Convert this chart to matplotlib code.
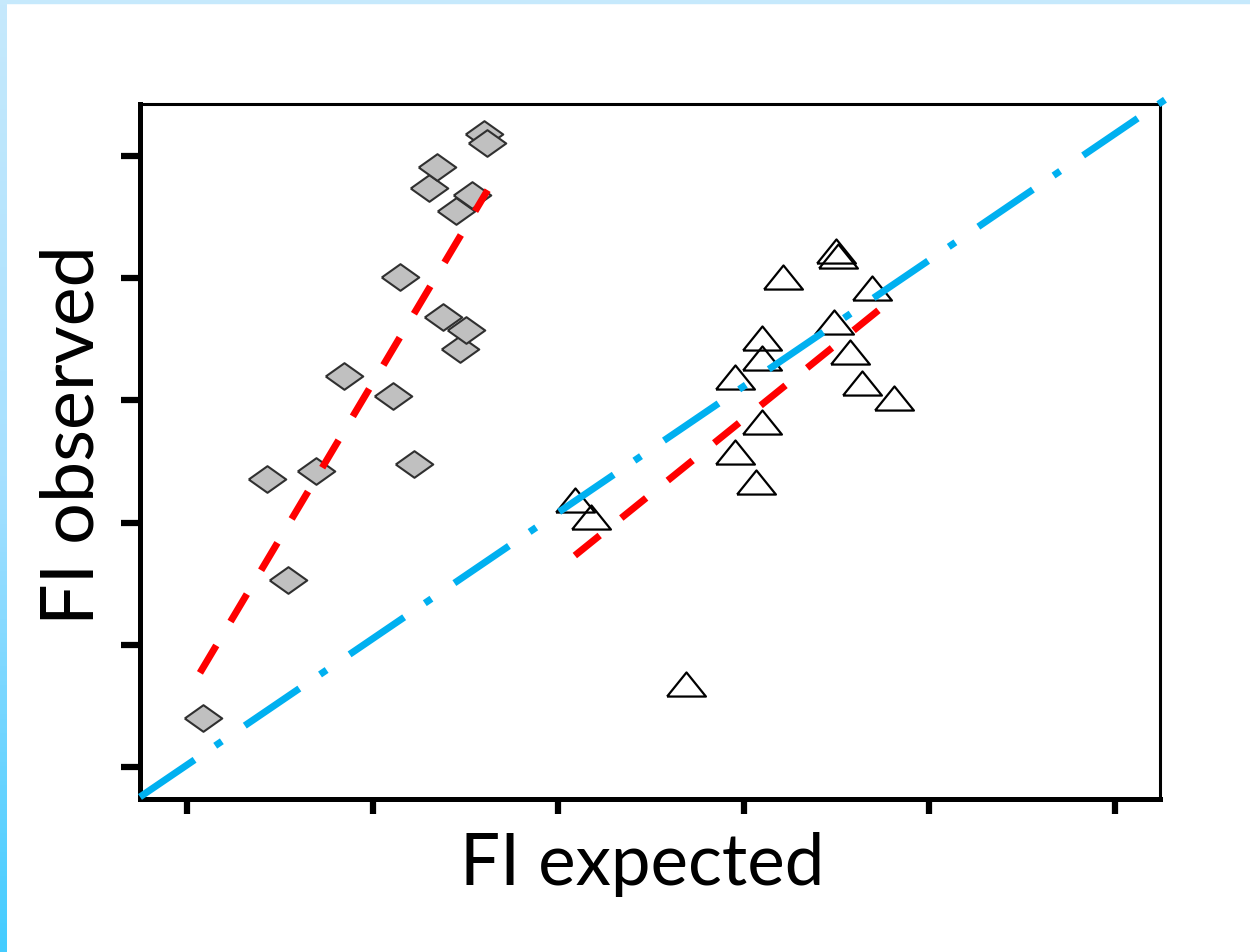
import numpy as np
import matplotlib
matplotlib.use("Agg")
import matplotlib.pyplot as plt

# diamonds (grey), arbitrary units
dia_x = [0.086, 0.431, 0.544, 0.695, 0.846, 1.110, 1.148, 1.223, 1.304,
         1.347, 1.379, 1.449, 1.471, 1.503, 1.536, 1.600, 1.616]
dia_y = [0.401, 2.357, 1.530, 2.422, 3.200, 3.036, 4.010, 2.480, 4.738,
         4.910, 3.682, 4.550, 3.421, 3.576, 4.681, 5.180, 5.106]

# triangles (open)
tri_x = [2.091, 2.177, 2.689, 2.953, 3.066, 3.098, 2.953, 3.098, 3.098,
         3.211, 3.497, 3.508, 3.486, 3.572, 3.637, 3.691, 3.809]
tri_y = [2.185, 2.046, 0.679, 2.578, 2.332, 2.823, 3.191, 3.347, 3.511,
         4.010, 4.223, 4.182, 3.642, 3.396, 3.142, 3.920, 3.020]

# fitted lines + identity line
fit1_x = [0.07, 1.62]
fit1_y = [0.77, 4.72]
fit2_x = [2.09, 3.81]
fit2_y = [1.73, 3.84]
ident_x = [-0.253, 5.27]
ident_y = [-0.245, 5.46]

xticks = [0, 1, 2, 3, 4, 5]
yticks = [0, 1, 2, 3, 4, 5]

plt.rcParams['font.family'] = ['Lato', 'DejaVu Sans']

fig = plt.figure(figsize=(12.5, 9.52), dpi=100)

# light blue frame on the top and left edge
fig.patches.append(plt.Rectangle((0, 1 - 3 / 952), 1, 3 / 952, transform=fig.transFigure,
                                 color='#c6e9fc', zorder=0))
bg = fig.add_axes([0, 0, 7 / 1250, 1])
grad = np.linspace(0, 1, 200).reshape(-1, 1)
cmap = matplotlib.colors.LinearSegmentedColormap.from_list('edge', ['#c6e9fc', '#a6e0ff', '#44ccff'])
bg.imshow(grad, aspect='auto', cmap=cmap, extent=[0, 1, 0, 1], origin='upper')
bg.axis('off')

ax = fig.add_axes([140 / 1250, 1 - 799 / 952, 1020 / 1250, 695 / 952])

diamond = [(-1, 0), (0, 0.71), (1, 0), (0, -0.71), (-1, 0)]
triangle = [(-1, -0.62), (1, -0.62), (0, 0.62), (-1, -0.62)]

ax.plot(dia_x, dia_y, linestyle='none', marker=diamond, markersize=27,
        markerfacecolor='#c0c0c0', markeredgecolor='#303030', markeredgewidth=1.5, zorder=2)
ax.plot(tri_x, tri_y, linestyle='none', marker=triangle, markersize=28,
        markerfacecolor='none', markeredgecolor='black', markeredgewidth=1.6, zorder=2)

ax.plot(ident_x, ident_y, color='#00b0f0', lw=5, dashes=(9.5, 3.6, 1.15, 4),
        clip_on=False, zorder=3)
ax.plot(fit1_x, fit1_y, color='#ff0000', lw=5, dashes=(4.6, 4.0), zorder=4)
ax.plot(fit2_x, fit2_y, color='#ff0000', lw=5, dashes=(4.6, 4.0), zorder=4)

ax.set_xlim(-0.253, 5.243)
ax.set_ylim(-0.262, 5.425)
ax.set_xticks(xticks)
ax.set_yticks(yticks)
ax.set_xticklabels([])
ax.set_yticklabels([])
ax.tick_params(axis='x', direction='out', length=11, width=4.5)
ax.tick_params(axis='y', direction='out', length=14, width=4.5)
for s in ['left', 'bottom']:
    ax.spines[s].set_linewidth(3.6)
for s in ['top', 'right']:
    ax.spines[s].set_linewidth(2.2)

ax.set_xlabel('FI expected', fontsize=51)
ax.set_ylabel('FI observed', fontsize=53)
ax.xaxis.set_label_coords(0.492, -0.047)
ax.yaxis.set_label_coords(-0.033, 0.524)

fig.savefig('out.png', dpi=100)
